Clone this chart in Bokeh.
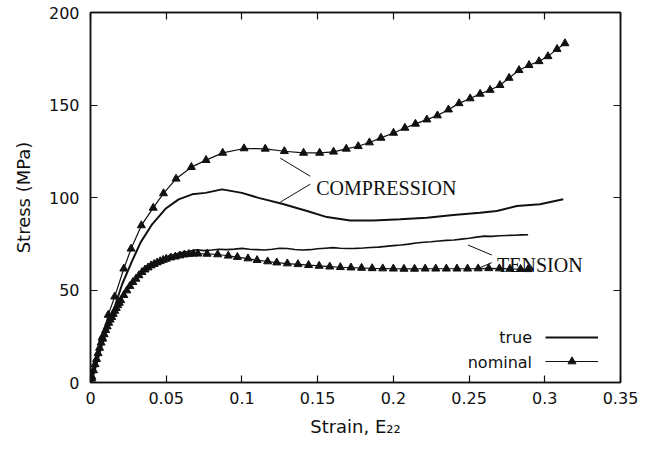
from bokeh.plotting import figure
from bokeh.models import (FixedTicker, LinearAxis, Label, Legend, LegendItem,
                          CustomJSTickFormatter, Range1d)
from bokeh.embed import file_html
from bokeh.resources import INLINE

# ---------------- data ----------------
comp_nom_x = [0.0, 0.0007, 0.0077, 0.0117, 0.016, 0.022, 0.0268, 0.0336, 0.0414, 0.0482,
              0.0565, 0.0666, 0.0763, 0.0873, 0.1014, 0.1154, 0.128, 0.1407, 0.1513,
              0.1605, 0.1689, 0.1768, 0.1842, 0.1918, 0.2001, 0.2076, 0.2146, 0.2221,
              0.2291, 0.2364, 0.2434, 0.2507, 0.2573, 0.2639, 0.2704, 0.2764, 0.283,
              0.2896, 0.2962, 0.3021, 0.3081, 0.3133]
comp_nom_y = [0.0, 2.0, 24.3, 36.5, 46.4, 61.5, 72.3, 84.9, 94.4, 102.2,
              110.1, 116.4, 120.2, 124.1, 126.5, 126.3, 125.0, 124.1, 124.1,
              124.7, 126.3, 127.7, 129.7, 132.2, 134.9, 137.6, 139.8, 142.1,
              144.3, 147.5, 150.9, 153.5, 156.0, 158.1, 160.7, 164.6, 168.8,
              171.5, 173.6, 176.3, 180.2, 183.3]

comp_true_x = [0.0, 0.0011, 0.0077, 0.0143, 0.0209, 0.0275, 0.033, 0.0407, 0.0495, 0.0582,
               0.0671, 0.0759, 0.0869, 0.1, 0.111, 0.1265, 0.143, 0.1561, 0.1715,
               0.1869, 0.2045, 0.2221, 0.2396, 0.2573, 0.2683, 0.2815, 0.2968, 0.3122]
comp_true_y = [0.0, 1.8, 20.7, 36.9, 53.1, 65.7, 75.6, 85.5, 93.9, 99.0,
               101.7, 102.5, 104.4, 102.5, 99.8, 96.6, 92.7, 89.4, 87.6,
               87.6, 88.2, 89.0, 90.5, 91.7, 92.7, 95.4, 96.3, 99.0]

tens_nom_x = [0.0, 0.001, 0.002, 0.003, 0.004, 0.005, 0.006, 0.007, 0.008, 0.009,
              0.010, 0.011, 0.012, 0.013, 0.014, 0.015, 0.016, 0.017, 0.018, 0.019,
              0.020, 0.022, 0.024, 0.026, 0.028, 0.030, 0.032, 0.034, 0.036, 0.038,
              0.040, 0.042, 0.044, 0.046, 0.048, 0.050, 0.053, 0.056, 0.059, 0.062,
              0.065, 0.068, 0.071, 0.077, 0.084, 0.091, 0.097, 0.104, 0.110, 0.117,
              0.123, 0.130, 0.137, 0.144, 0.151, 0.158, 0.165, 0.172, 0.179, 0.186,
              0.193, 0.200, 0.207, 0.214, 0.221, 0.228, 0.235, 0.242, 0.249, 0.256,
              0.263, 0.270, 0.277, 0.284, 0.289]
tens_nom_y = [0.0, 3.0, 6.5, 9.8, 12.6, 15.8, 18.7, 21.5, 23.6, 26.0,
              28.3, 30.2, 32.2, 33.9, 35.3, 37.0, 38.7, 40.2, 41.7, 43.0,
              44.4, 47.2, 49.7, 52.1, 54.2, 56.0, 57.9, 59.6, 61.0, 62.1,
              63.2, 64.0, 64.8, 65.5, 66.2, 66.8, 67.5, 68.0, 68.6, 69.1,
              69.4, 69.6, 69.6, 69.5, 69.2, 68.5, 67.8, 67.0, 66.1, 65.4,
              64.8, 64.3, 63.9, 63.4, 63.0, 62.6, 62.3, 62.1, 61.9, 61.7,
              61.6, 61.5, 61.4, 61.4, 61.5, 61.5, 61.5, 61.5, 61.5, 61.6,
              61.7, 61.6, 61.4, 61.3, 61.2]

tens_true_x = [0.0, 0.004, 0.008, 0.012, 0.016, 0.020, 0.026, 0.032, 0.038, 0.045,
               0.052, 0.060, 0.066, 0.070, 0.075, 0.080, 0.085, 0.090, 0.095, 0.100,
               0.105, 0.110, 0.115, 0.120, 0.125, 0.130, 0.135, 0.140, 0.145, 0.150,
               0.155, 0.160, 0.165, 0.170, 0.175, 0.180, 0.185, 0.190, 0.195, 0.200,
               0.205, 0.210, 0.215, 0.220, 0.225, 0.230, 0.235, 0.240, 0.245, 0.250,
               0.255, 0.260, 0.265, 0.270, 0.275, 0.280, 0.285, 0.289]
tens_true_y = [0.0, 12.7, 23.8, 32.5, 39.2, 45.0, 52.5, 58.4, 62.8, 66.0,
               68.5, 70.2, 71.0, 71.8, 71.3, 71.6, 72.0, 71.8, 72.1, 72.5,
               72.0, 71.8, 71.6, 72.0, 72.6, 72.4, 71.9, 71.6, 71.8, 72.3,
               72.6, 72.9, 72.6, 72.4, 72.5, 72.7, 73.0, 73.2, 73.6, 74.0,
               74.3, 74.8, 75.4, 75.8, 76.1, 76.5, 76.8, 77.0, 77.5, 78.0,
               78.6, 79.1, 79.0, 79.3, 79.5, 79.6, 79.8, 79.9]

x_ticks = [0.0, 0.05, 0.1, 0.15, 0.2, 0.25, 0.3, 0.35]
x_tick_labels = ["0", "0.05", "0.1", "0.15", "0.2", "0.25", "0.3", "0.35"]
y_ticks = [0, 50, 100, 150, 200]
y_tick_labels = ["0", "50", "100", "150", "200"]

series_names = ["true", "nominal"]
x_title = "Strain, E\u2082\u2082"
y_title = "Stress (MPa)"

# annotation anchors (data units)
comp_label = (0.1491, 105.1, "COMPRESSION")
tens_label = (0.2685, 63.5, "TENSION")
comp_leaders = [((0.1253, 121.3), (0.1451, 111.5)), ((0.1253, 97.5), (0.1451, 107.2))]
tens_leaders = [((0.2493, 74.3), (0.265, 68.9)), ((0.2553, 61.4), (0.265, 64.8))]

# ---------------- figure ----------------
INK = "#111111"
FONT = "DejaVu Sans"

p = figure(width=659, height=452, output_backend="svg", toolbar_location=None,
           x_range=Range1d(0, 0.35), y_range=Range1d(0, 200),
           min_border_left=90, min_border_right=39, min_border_top=12, min_border_bottom=70,
           x_axis_location=None, y_axis_location=None)
p.background_fill_color = "white"
p.border_fill_color = "white"
p.grid.visible = False
p.outline_line_color = INK
p.outline_line_width = 1.5


def style_axis(ax, ticks, labels=None, show=True):
    ax.ticker = FixedTicker(ticks=ticks)
    ax.axis_line_color = INK
    ax.axis_line_width = 1.5
    ax.major_tick_line_color = INK
    ax.major_tick_line_width = 1.2
    ax.major_tick_in = 7
    ax.major_tick_out = 0
    ax.minor_tick_line_color = None
    if show:
        ax.major_label_overrides = {t: l for t, l in zip(ticks, labels)}
        ax.major_label_text_font = FONT
        ax.major_label_text_font_size = "16px"
        ax.major_label_text_color = INK
        ax.axis_label_text_font = FONT
        ax.axis_label_text_font_size = "18px"
        ax.axis_label_text_font_style = "normal"
        ax.axis_label_text_color = INK
    else:
        ax.formatter = CustomJSTickFormatter(code="return ''")
        ax.major_label_text_font_size = "0px"
        ax.major_label_standoff = 0


xb = LinearAxis(axis_label=x_title)
style_axis(xb, x_ticks, x_tick_labels)
xb.major_label_standoff = 9
xb.axis_label_standoff = 9
p.add_layout(xb, "below")

yl = LinearAxis(axis_label=y_title)
style_axis(yl, y_ticks, y_tick_labels)
yl.major_label_standoff = 11
yl.axis_label_standoff = 12
p.add_layout(yl, "left")

xt = LinearAxis()
style_axis(xt, x_ticks, show=False)
p.add_layout(xt, "above")
yr = LinearAxis()
style_axis(yr, y_ticks, show=False)
p.add_layout(yr, "right")

# curves
r_ct = p.line(comp_true_x, comp_true_y, line_color=INK, line_width=2)
r_tt = p.line(tens_true_x, tens_true_y, line_color=INK, line_width=1.6)
r_cn_l = p.line(comp_nom_x, comp_nom_y, line_color=INK, line_width=1.2)
r_cn_m = p.scatter(comp_nom_x, comp_nom_y, marker="triangle", size=8,
                   fill_color=INK, line_color=INK)
r_tn_l = p.line(tens_nom_x, tens_nom_y, line_color=INK, line_width=1.2)
r_tn_m = p.scatter(tens_nom_x, tens_nom_y, marker="triangle", size=8,
                   fill_color=INK, line_color=INK)

# leader lines
for (a, b) in comp_leaders + tens_leaders:
    p.line([a[0], b[0]], [a[1], b[1]], line_color=INK, line_width=1)

for (lx, ly, txt) in (comp_label, tens_label):
    p.add_layout(Label(x=lx, y=ly, text=txt, text_font="Liberation Serif",
                       text_font_size="20px", text_color=INK,
                       text_baseline="alphabetic", text_align="left"))

# legend glyphs (labels drawn separately on the left of the glyphs)
legend = Legend(items=[LegendItem(label=" ", renderers=[r_ct]),
                       LegendItem(label=" ", renderers=[r_cn_l, r_cn_m])],
                location=(455, 11), orientation="vertical",
                glyph_width=53, glyph_height=20, spacing=4, padding=0, margin=0,
                label_width=0, label_height=20, label_standoff=0,
                label_text_font_size="1px",
                border_line_color=None, background_fill_alpha=0)
p.add_layout(legend, "center")

p.add_layout(Label(x=0.2916, y=24.1, text=series_names[0], text_font=FONT,
                   text_font_size="16px", text_color=INK,
                   text_align="right", text_baseline="middle"))
p.add_layout(Label(x=0.2916, y=10.6, text=series_names[1], text_font=FONT,
                   text_font_size="16px", text_color=INK,
                   text_align="right", text_baseline="middle"))

open("out.html", "w").write(file_html(p, INLINE))
